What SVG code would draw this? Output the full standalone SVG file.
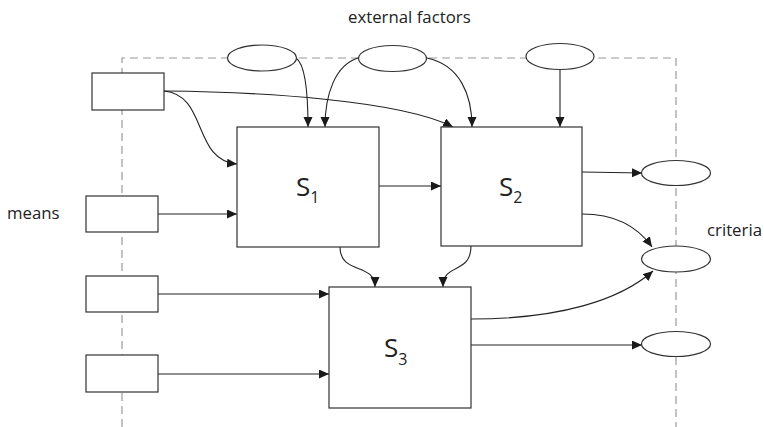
<svg xmlns="http://www.w3.org/2000/svg" width="764" height="427" viewBox="0 0 764 427">
<defs>
<marker id="ah" markerUnits="userSpaceOnUse" markerWidth="11" markerHeight="10" refX="10" refY="4.5" orient="auto">
<path d="M0,0 L10,4.5 L0,9 z" fill="#1a1a1a"/>
</marker>
<style>
.box{fill:#fff;stroke:#333;stroke-width:1.2}
.ell{fill:#fff;stroke:#333;stroke-width:1.2}
.bd{fill:none;stroke:#9a9a9a;stroke-width:1.2;stroke-dasharray:8,5}
.cn path{fill:none;stroke:#222;stroke-width:1.1;marker-end:url(#ah)}
.lbl{font-family:"Open Sans","Liberation Sans",sans-serif;font-size:16.8px;fill:#222}
.sl{font-family:"Open Sans","Liberation Sans",sans-serif;font-size:26px;fill:#222}
.sub{font-size:16px}
</style>
</defs>
<rect width="764" height="427" fill="#fff"/>
<path class="bd" d="M122,427 V58 H676 V427"/>
<text class="lbl" x="348" y="23">external factors</text>
<text class="lbl" x="7" y="219">means</text>
<text class="lbl" x="707" y="236">criteria</text>
<g class="cn" id="connectors">
<path d="M164,91 C208,95 192,160 237,164"/>
<path d="M164,91 C260,92 400,100 453,127"/>
<path d="M296,58 C305,64 308,90 308,127"/>
<path d="M358,58 C335,65 325,95 325,127"/>
<path d="M427,58 C460,65 472,95 472,127"/>
<path d="M560,69 V127"/>
<path d="M379,186 H441"/>
<path d="M158,214 H237"/>
<path d="M582,172 L642,173"/>
<path d="M582,214 C620,214 640,230 652,247"/>
<path d="M340,247 C340,275 375,262 375,287"/>
<path d="M471,246 C471,275 443,262 443,287"/>
<path d="M158,294 H329"/>
<path d="M158,374 H329"/>
<path d="M471,319 C560,319 620,300 653,271"/>
<path d="M471,345 H642"/>
</g>
<g id="means1"><rect class="box" x="92" y="73" width="72" height="37"/></g>
<g id="means2"><rect class="box" x="86" y="196" width="72" height="36"/></g>
<g id="means3"><rect class="box" x="86" y="276" width="72" height="36"/></g>
<g id="means4"><rect class="box" x="86" y="355" width="72" height="37"/></g>
<g id="ext1"><ellipse class="ell" cx="262" cy="58" rx="34.5" ry="13"/></g>
<g id="ext2"><ellipse class="ell" cx="392.5" cy="58.5" rx="34" ry="13"/></g>
<g id="ext3"><ellipse class="ell" cx="560" cy="56.5" rx="34" ry="13"/></g>
<g id="crit1"><ellipse class="ell" cx="676" cy="173" rx="34.5" ry="12.5"/></g>
<g id="crit2"><ellipse class="ell" cx="676" cy="259" rx="34.5" ry="13"/></g>
<g id="crit3"><ellipse class="ell" cx="676" cy="344" rx="34.5" ry="12.5"/></g>
<g id="S1"><rect class="box" x="237" y="127" width="142" height="120"/>
<text class="sl" x="296" y="196">S<tspan class="sub" dy="7">1</tspan></text></g>
<g id="S2"><rect class="box" x="441" y="127" width="141" height="119"/>
<text class="sl" x="499" y="196">S<tspan class="sub" dy="7">2</tspan></text></g>
<g id="S3"><rect class="box" x="329" y="287" width="142" height="121"/>
<text class="sl" x="384" y="357">S<tspan class="sub" dy="8">3</tspan></text></g>
</svg>
